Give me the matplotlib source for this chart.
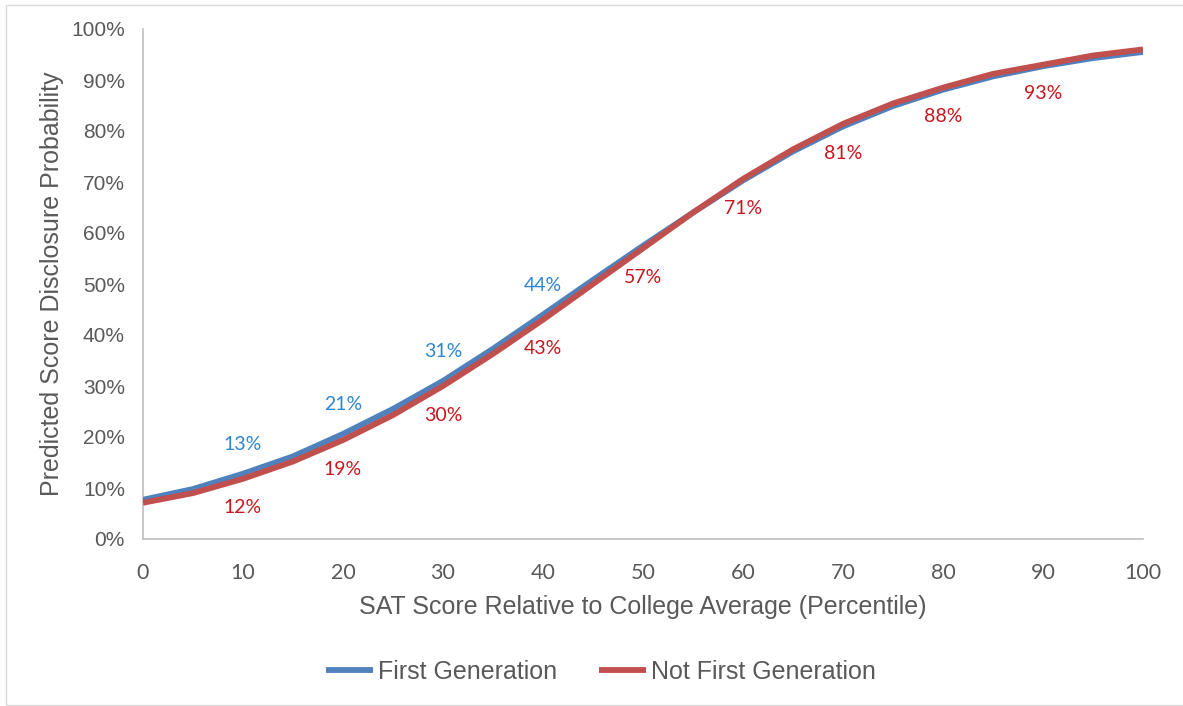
import matplotlib
matplotlib.use("Agg")
import matplotlib.pyplot as plt
from matplotlib.patches import Rectangle
from matplotlib.ticker import FuncFormatter

# ---- data ----
sat_pct = [0, 5, 10, 15, 20, 25, 30, 35, 40, 45, 50, 55, 60, 65, 70, 75, 80, 85, 90, 95, 100]
first_gen = [7.7, 9.8, 12.8, 16.2, 20.6, 25.5, 31.0, 37.3, 44.0, 50.8, 57.5, 64.0, 70.3, 76.0, 80.9, 84.9, 88.1, 90.7, 92.7, 94.3, 95.5]
not_first_gen = [7.1, 9.0, 11.8, 15.2, 19.4, 24.3, 30.0, 36.3, 43.0, 50.0, 57.0, 64.0, 70.6, 76.4, 81.4, 85.4, 88.5, 91.2, 93.0, 94.8, 96.0]

first_label_x = [10, 20, 30, 40]
first_label_txt = ["13%", "21%", "31%", "44%"]
not_label_x = [10, 20, 30, 40, 50, 60, 70, 80, 90]
not_label_txt = ["12%", "19%", "30%", "43%", "57%", "71%", "81%", "88%", "93%"]

x_ticks = [0, 10, 20, 30, 40, 50, 60, 70, 80, 90, 100]
y_ticks = [0, 10, 20, 30, 40, 50, 60, 70, 80, 90, 100]

BLUE = "#4F81BD"
RED = "#C0504D"
BLUE_TXT = "#2E86D1"
RED_TXT = "#C8161D"
GREY_TXT = "#595959"
AXIS = "#BFBFBF"

fig = plt.figure(figsize=(11.83, 7.06), dpi=100)
ax = fig.add_axes([143/1183, 1-539/706, 1000/1183, 510/706])

ax.plot(sat_pct, first_gen, color=BLUE, lw=4.2, solid_capstyle="butt", label="First Generation", zorder=3)
ax.plot(sat_pct, not_first_gen, color=RED, lw=4.2, solid_capstyle="butt", label="Not First Generation", zorder=4)

fg = dict(zip(sat_pct, first_gen))
nf = dict(zip(sat_pct, not_first_gen))
for xv, t in zip(first_label_x, first_label_txt):
    ax.annotate(t, (xv, fg[xv]), xytext=(0, 21), textcoords="offset points",
                ha="center", va="center", color=BLUE_TXT, fontsize=14, family="Lato")
for xv, t in zip(not_label_x, not_label_txt):
    ax.annotate(t, (xv, nf[xv]), xytext=(0, -21), textcoords="offset points",
                ha="center", va="center", color=RED_TXT, fontsize=14, family="Lato")

ax.set_xlim(0, 100)
ax.set_ylim(0, 100)
ax.set_xticks(x_ticks)
ax.set_yticks(y_ticks)
ax.yaxis.set_major_formatter(FuncFormatter(lambda v, p: f"{int(v)}%"))
ax.tick_params(axis="both", length=0, colors=GREY_TXT)
ax.tick_params(axis="y", pad=13, labelsize=15)
ax.tick_params(axis="x", pad=17, labelsize=15.5)
for lab in ax.get_yticklabels():
    lab.set_family("Liberation Sans")
for lab in ax.get_xticklabels():
    lab.set_family("Lato")

for s in ["top", "right"]:
    ax.spines[s].set_visible(False)
for s in ["left", "bottom"]:
    ax.spines[s].set_color(AXIS)
    ax.spines[s].set_linewidth(1.2)

ax.set_xlabel("SAT Score Relative to College Average (Percentile)", fontsize=18,
              color=GREY_TXT, family="Liberation Sans", labelpad=9)
ax.set_ylabel("Predicted Score Disclosure Probability", fontsize=18,
              color=GREY_TXT, family="Liberation Sans", labelpad=5)

leg = fig.legend(loc="center", bbox_to_anchor=(601/1183, 1-672/706), ncol=2, frameon=False,
                 handlelength=1.9, handletextpad=0.2, columnspacing=1.65,
                 prop={"family": "Liberation Sans", "size": 18})
for t in leg.get_texts():
    t.set_color(GREY_TXT)
for h in leg.get_lines():
    h.set_linewidth(4.2)

fig.patches.append(Rectangle((6/1183, 1-705/706), 1.0, 700/706, transform=fig.transFigure,
                             fill=False, edgecolor="#D9D9D9", lw=1.0, clip_on=False))

fig.savefig("out.png", dpi=100)
